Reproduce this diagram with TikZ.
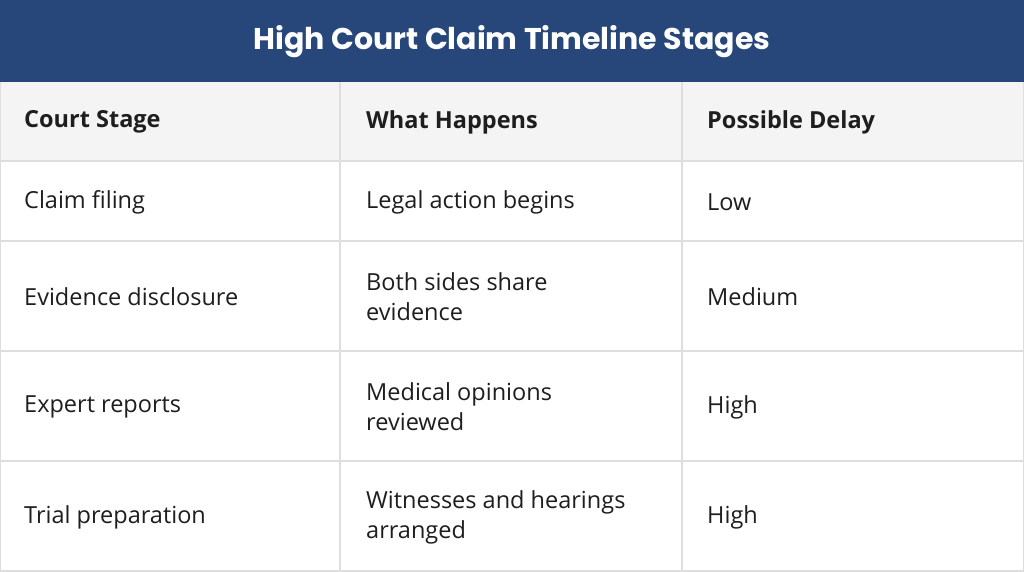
\documentclass[tikz,border=0pt]{standalone}
\usepackage{fontspec}
\setmainfont{Open Sans}
\newfontfamily\titlefont{Poppins}
\definecolor{hdrblue}{HTML}{27467A}
\definecolor{hdrgray}{HTML}{F4F4F4}
\definecolor{gridc}{HTML}{DEDEDE}
\definecolor{txt}{HTML}{1E1E1E}
\tikzset{
 cell/.style={anchor=west,align=left,inner sep=0pt,text=txt,font=\fontsize{23.5}{30}\selectfont},
 headcell/.style={cell,font=\fontsize{23.5}{30}\selectfont\bfseries},
 grid/.style={draw=gridc,line width=1.2pt}
}
\begin{document}
\begin{tikzpicture}[x=1pt,y=-1pt]
\useasboundingbox (0,0) rectangle (1024,572);
\fill[white] (0,0) rectangle (1024,572);
\fill[hdrblue] (0,0) rectangle (1024,82);
\node[text=white,font=\titlefont\fontsize{30}{36}\selectfont\bfseries] (title) at (512,42) {High Court Claim Timeline Stages};
\fill[hdrgray] (0,82) rectangle (1024,161);
\foreach \y in {161,241,351,461,571} \draw[grid] (0,\y) -- (1024,\y);
\foreach \x in {340,682} \draw[grid] (\x,82) -- (\x,572);
\draw[grid] (0.6,82) -- (0.6,572);
\draw[grid] (1023.4,82) -- (1023.4,572);
\node[headcell] (h1) at (24,122) {Court Stage};
\node[headcell] (h2) at (366,122) {What Happens};
\node[headcell] (h3) at (707,122) {Possible Delay};
\node[cell] (a1) at (24,202) {Claim filing};
\node[cell] (b1) at (366,202) {Legal action begins};
\node[cell] (c1) at (707,202) {Low};
\node[cell] (a2) at (24,297) {Evidence disclosure};
\node[cell] (b2) at (366,297) {Both sides share\\evidence};
\node[cell] (c2) at (707,297) {Medium};
\node[cell] (a3) at (24,407) {Expert reports};
\node[cell] (b3) at (366,407) {Medical opinions\\reviewed};
\node[cell] (c3) at (707,407) {High};
\node[cell] (a4) at (24,517) {Trial preparation};
\node[cell] (b4) at (366,517) {Witnesses and hearings\\arranged};
\node[cell] (c4) at (707,517) {High};
\end{tikzpicture}
\end{document}
